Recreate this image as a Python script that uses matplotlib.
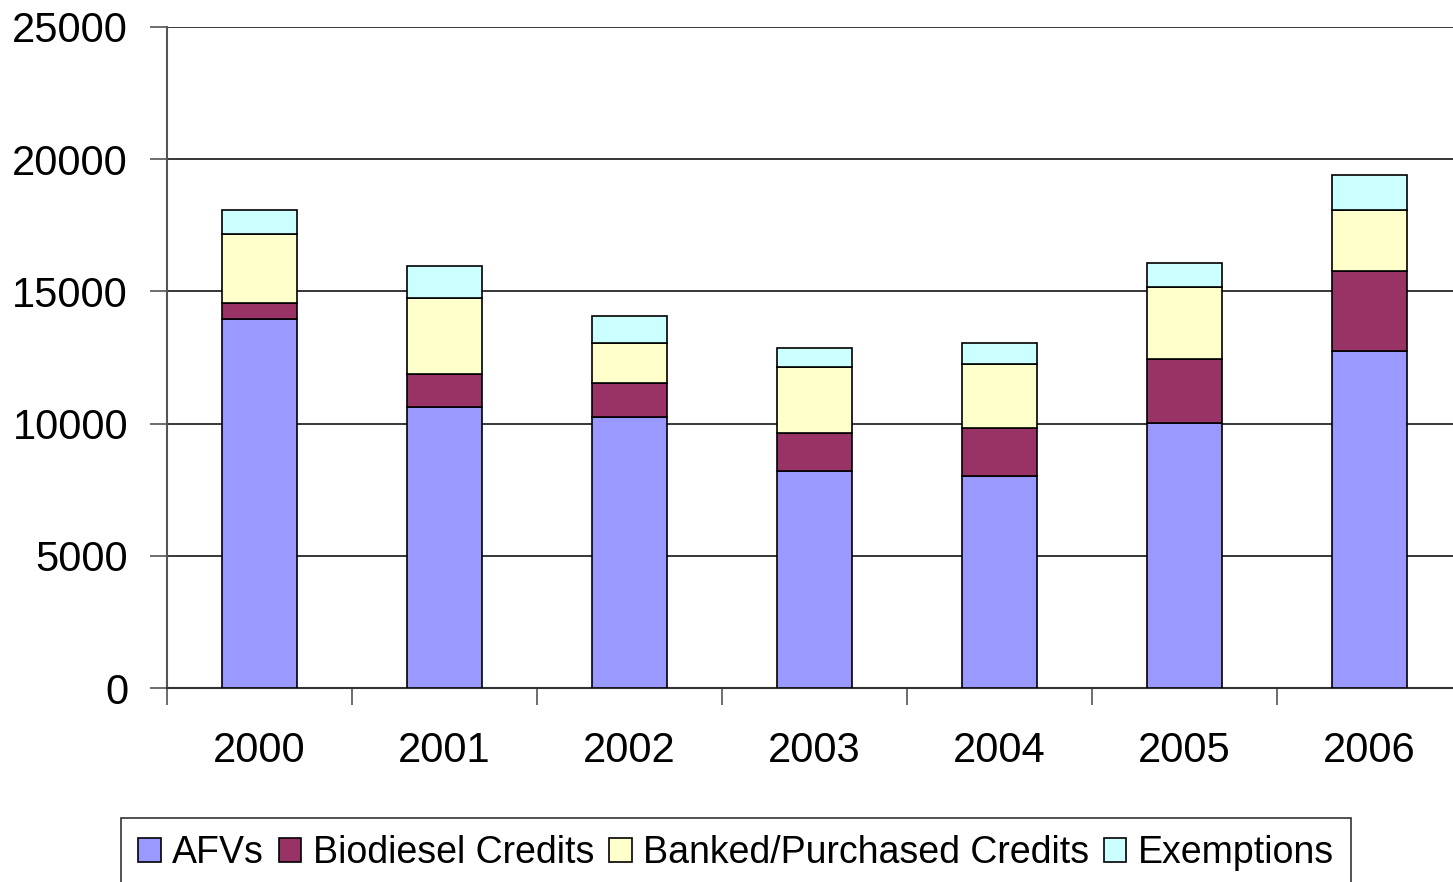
import matplotlib
matplotlib.use("Agg")
import matplotlib.pyplot as plt
import numpy as np

years = ["2000", "2001", "2002", "2003", "2004", "2005", "2006"]
afvs = [13950, 10630, 10250, 8210, 8020, 10020, 12750]
biodiesel = [610, 1250, 1290, 1430, 1810, 2420, 3020]
banked = [2610, 2870, 1510, 2500, 2420, 2730, 2310]
exemptions = [910, 1210, 1020, 720, 800, 900, 1320]

series_names = ["AFVs", "Biodiesel Credits", "Banked/Purchased Credits", "Exemptions"]
series_colors = ["#9999FF", "#993366", "#FFFFCC", "#CCFFFF"]

plt.rcParams['font.family'] = ['Liberation Sans', 'DejaVu Sans']

fig = plt.figure(figsize=(14.53, 8.82), dpi=100)
ax = fig.add_axes([167/1453, 1-688/882, 1295/1453, (688-27)/882])

x = np.arange(len(years))
bottom = np.zeros(len(years))
handles = []
for vals, name, col in zip([afvs, biodiesel, banked, exemptions], series_names, series_colors):
    b = ax.bar(x, vals, width=0.41, bottom=bottom, color=col, edgecolor='black',
               linewidth=1.2, label=name, zorder=3)
    handles.append(b)
    bottom += np.array(vals)

ax.set_xlim(-0.5, 6.5)
ax.set_ylim(0, 25000)
ax.set_yticks(np.arange(0, 25001, 5000))
ax.set_yticklabels([str(v) for v in range(0, 25001, 5000)], fontsize=30)
ax.set_xticks(x)
ax.set_xticklabels(years, fontsize=30)
ax.set_xticks(np.arange(-0.5, 7, 1), minor=True)
ax.tick_params(axis='x', which='major', length=0, pad=31)
ax.tick_params(axis='x', which='minor', length=12, width=1.2, color='#555555', direction='out')
ax.tick_params(axis='y', which='major', length=12, width=1.2, color='#555555', pad=16)

ax.yaxis.grid(True, color='black', linewidth=1.1, zorder=0)
ax.set_axisbelow(True)
for s in ['top', 'right']:
    ax.spines[s].set_visible(False)
ax.spines['left'].set_color('#555555')
ax.spines['left'].set_linewidth(1.5)
ax.spines['bottom'].set_color('#333333')
ax.spines['bottom'].set_linewidth(1.5)

leg = fig.legend(handles=handles, labels=series_names, loc='upper center',
                 bbox_to_anchor=(736/1453, 1-818/882), ncol=4, fontsize=27,
                 frameon=True, fancybox=False, edgecolor='black',
                 handlelength=0.6, handleheight=0.6, handletextpad=0.3,
                 columnspacing=0.4, borderpad=0.45, borderaxespad=0)
leg.get_frame().set_linewidth(1.2)

fig.savefig("out.png", dpi=100)
